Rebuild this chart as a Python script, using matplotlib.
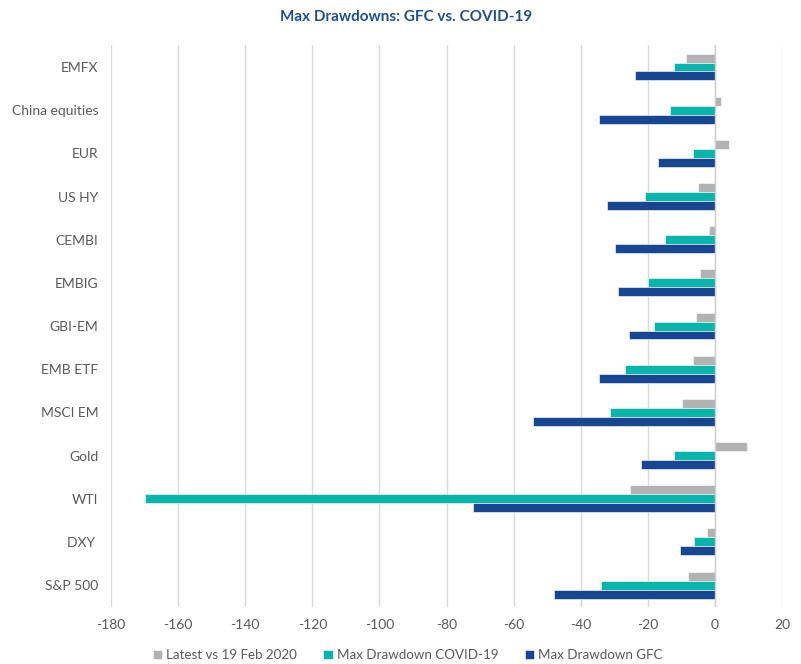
import matplotlib
matplotlib.use('Agg')
from matplotlib import pyplot as plt
import numpy as np

# categories listed top to bottom
categories = ['EMFX', 'China equities', 'EUR', 'US HY', 'CEMBI', 'EMBIG', 'GBI-EM',
              'EMB ETF', 'MSCI EM', 'Gold', 'WTI', 'DXY ', 'S&P 500']
latest = [-8.7, 1.8, 4.2, -5.0, -1.7, -4.3, -5.7, -6.4, -9.7, 9.7, -25.4, -2.5, -7.9]
covid = [-12.1, -13.4, -6.6, -20.7, -14.8, -20.0, -18.3, -26.7, -31.3, -12.3, -170.0, -6.3, -33.9]
gfc = [-23.9, -34.5, -16.9, -32.1, -29.9, -28.8, -25.6, -34.6, -54.1, -22.0, -72.1, -10.5, -48.1]
series_names = ['Latest vs 19 Feb 2020', 'Max Drawdown COVID-19', 'Max Drawdown GFC']
colors = ['#b2b2b2', '#0bb3ab', '#18478f']

plt.rcParams['font.family'] = ['Lato', 'DejaVu Sans']
plt.rcParams['axes.unicode_minus'] = False

fig = plt.figure(figsize=(8.01, 6.64), dpi=100)
ax = fig.add_axes([0.1386, 0.0864, 0.8377, 0.8452])

y = np.arange(len(categories))
h = 0.208
for k, (vals, name, col) in enumerate(zip([latest, covid, gfc], series_names, colors)):
    ax.barh(y + (k - 1) * h, vals, height=h, color=col, label=name,
            edgecolor='white', linewidth=0.4, zorder=3)

ax.set_xlim(-180, 20)
ax.set_ylim(len(categories) - 0.5, -0.5)
ax.set_xticks(range(-180, 21, 20))
ax.set_yticks(y)
ax.set_yticklabels(categories)
ax.grid(axis='x', color='#d9d9d9', linewidth=1, zorder=0)
ax.axvline(0, color='#d0d0d0', linewidth=1, zorder=4)
for s in ax.spines.values():
    s.set_visible(False)
ax.tick_params(axis='both', length=0, labelsize=10, colors='#595959')
ax.tick_params(axis='y', pad=9)
ax.tick_params(axis='x', pad=9)

fig.text(0.507, 0.974, 'Max Drawdowns: GFC vs. COVID-19', fontsize=11, fontweight='bold',
         color='#1f4e8f', ha='center', va='center')

fig.legend(loc='center', bbox_to_anchor=(0.509, 0.0136), ncol=3, frameon=False,
           fontsize=9.6, handlelength=0.7, handleheight=0.7, handletextpad=0.3,
           columnspacing=2.0, labelcolor='#595959')

fig.savefig('out.png', dpi=100)
